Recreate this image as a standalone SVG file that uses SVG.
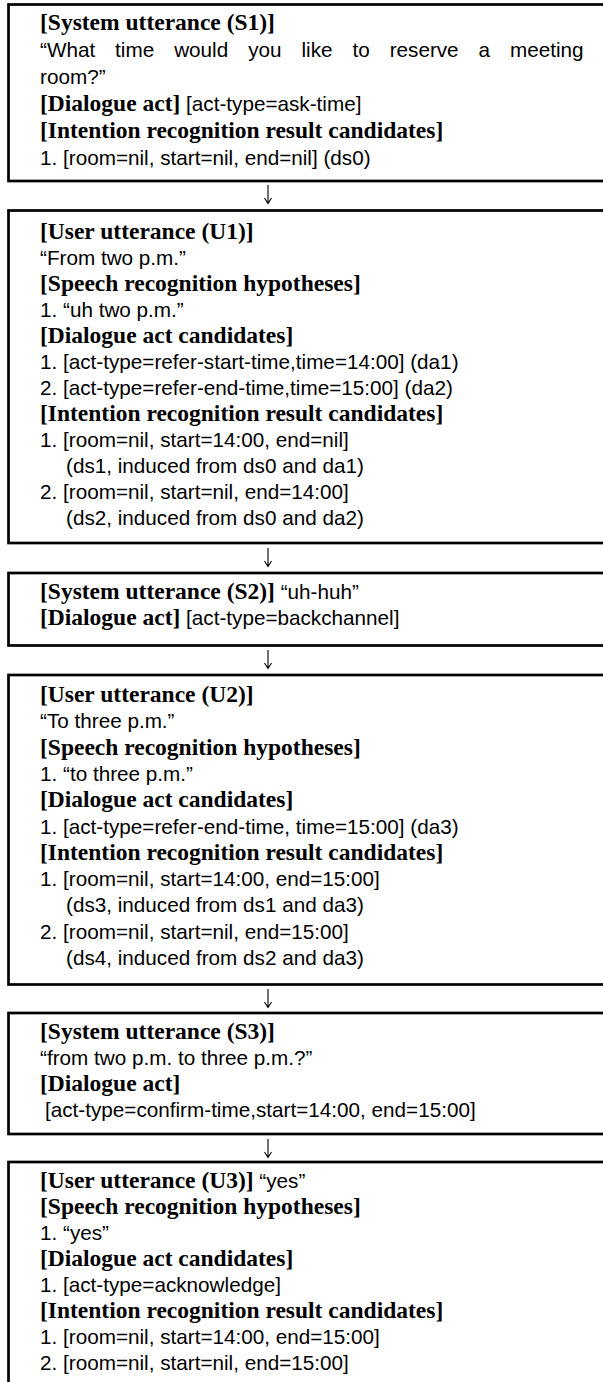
<svg xmlns="http://www.w3.org/2000/svg" width="603" height="1382" viewBox="0 0 603 1382">
  <style>
    .box { fill: #ffffff; stroke: #000000; stroke-width: 2.7; }
    .t { font-family: "Liberation Sans", Arial, sans-serif; font-size: 20.7px; fill: #000000; }
    .h { font-family: "Liberation Serif", "Times New Roman", serif; font-size: 23.5px; font-weight: bold; }
    .arrow { stroke: #000000; stroke-width: 1.1; fill: none; }
  </style>
  <rect width="603" height="1382" fill="#ffffff"/>

  <!-- System utterance S1 -->
  <g id="s1">
    <rect class="box" x="8.5" y="4.5" width="610" height="176.5"/>
    <text class="t" x="40">
      <tspan x="40" y="30" class="h">[System utterance (S1)]</tspan>
      <tspan x="40" y="57" word-spacing="14.2">“What time would you like to reserve a meeting</tspan>
      <tspan x="40" y="84">room?”</tspan>
      <tspan x="40" y="111"><tspan class="h">[Dialogue act]</tspan> [act-type=ask-time]</tspan>
      <tspan x="40" y="138" class="h">[Intention recognition result candidates]</tspan>
      <tspan x="40" y="165">1. [room=nil, start=nil, end=nil] (ds0)</tspan>
    </text>
  </g>

  <!-- User utterance U1 -->
  <g id="u1">
    <rect class="box" x="8.5" y="210.5" width="610" height="332.5"/>
    <text class="t" x="40">
      <tspan x="40" y="239" class="h">[User utterance (U1)]</tspan>
      <tspan x="40" y="265">“From two p.m.”</tspan>
      <tspan x="40" y="291" class="h">[Speech recognition hypotheses]</tspan>
      <tspan x="40" y="317">1. “uh two p.m.”</tspan>
      <tspan x="40" y="343" class="h">[Dialogue act candidates]</tspan>
      <tspan x="40" y="369">1. [act-type=refer-start-time,time=14:00] (da1)</tspan>
      <tspan x="40" y="395">2. [act-type=refer-end-time,time=15:00] (da2)</tspan>
      <tspan x="40" y="421" class="h">[Intention recognition result candidates]</tspan>
      <tspan x="40" y="447">1. [room=nil, start=14:00, end=nil]</tspan>
      <tspan x="66" y="473">(ds1, induced from ds0 and da1)</tspan>
      <tspan x="40" y="499">2. [room=nil, start=nil, end=14:00]</tspan>
      <tspan x="66" y="525">(ds2, induced from ds0 and da2)</tspan>
    </text>
  </g>

  <!-- System utterance S2 -->
  <g id="s2">
    <rect class="box" x="8.5" y="573" width="610" height="72.5"/>
    <text class="t" x="40">
      <tspan x="40" y="599"><tspan class="h">[System utterance (S2)]</tspan> “uh-huh”</tspan>
      <tspan x="40" y="625"><tspan class="h">[Dialogue act]</tspan> [act-type=backchannel]</tspan>
    </text>
  </g>

  <!-- User utterance U2 -->
  <g id="u2">
    <rect class="box" x="8.5" y="675" width="610" height="309.5"/>
    <text class="t" x="40">
      <tspan x="40" y="702" class="h">[User utterance (U2)]</tspan>
      <tspan x="40" y="728.3">“To three p.m.”</tspan>
      <tspan x="40" y="754.6" class="h">[Speech recognition hypotheses]</tspan>
      <tspan x="40" y="780.9">1. “to three p.m.”</tspan>
      <tspan x="40" y="807.2" class="h">[Dialogue act candidates]</tspan>
      <tspan x="40" y="833.5">1. [act-type=refer-end-time, time=15:00] (da3)</tspan>
      <tspan x="40" y="859.8" class="h">[Intention recognition result candidates]</tspan>
      <tspan x="40" y="886.1">1. [room=nil, start=14:00, end=15:00]</tspan>
      <tspan x="66" y="912.4">(ds3, induced from ds1 and da3)</tspan>
      <tspan x="40" y="938.7">2. [room=nil, start=nil, end=15:00]</tspan>
      <tspan x="66" y="965">(ds4, induced from ds2 and da3)</tspan>
    </text>
  </g>

  <!-- System utterance S3 -->
  <g id="s3">
    <rect class="box" x="8.5" y="1013" width="610" height="121"/>
    <text class="t" x="40">
      <tspan x="40" y="1039" class="h">[System utterance (S3)]</tspan>
      <tspan x="40" y="1065">“from two p.m. to three p.m.?”</tspan>
      <tspan x="40" y="1091" class="h">[Dialogue act]</tspan>
      <tspan x="45" y="1117">[act-type=confirm-time,start=14:00, end=15:00]</tspan>
    </text>
  </g>

  <!-- User utterance U3 -->
  <g id="u3">
    <rect class="box" x="8.5" y="1162" width="610" height="240"/>
    <text class="t" x="40">
      <tspan x="40" y="1188"><tspan class="h">[User utterance (U3)]</tspan> “yes”</tspan>
      <tspan x="40" y="1214" class="h">[Speech recognition hypotheses]</tspan>
      <tspan x="40" y="1240">1. “yes”</tspan>
      <tspan x="40" y="1266" class="h">[Dialogue act candidates]</tspan>
      <tspan x="40" y="1292">1. [act-type=acknowledge]</tspan>
      <tspan x="40" y="1318" class="h">[Intention recognition result candidates]</tspan>
      <tspan x="40" y="1344">1. [room=nil, start=14:00, end=15:00]</tspan>
      <tspan x="40" y="1370">2. [room=nil, start=nil, end=15:00]</tspan>
    </text>
  </g>

  <!-- Flow arrows between turns: thin stem with an open head -->
  <g id="connectors" class="arrow">
    <path d="M268,185 V203 M264.5,198 L268,203.5 L271.5,198"/>
    <path d="M268,548 V566 M264.5,561 L268,566.5 L271.5,561"/>
    <path d="M268,650 V668 M264.5,663 L268,668.5 L271.5,663"/>
    <path d="M268,989 V1007 M264.5,1002 L268,1007.5 L271.5,1002"/>
    <path d="M268,1139 V1157 M264.5,1152 L268,1157.5 L271.5,1152"/>
  </g>
</svg>
